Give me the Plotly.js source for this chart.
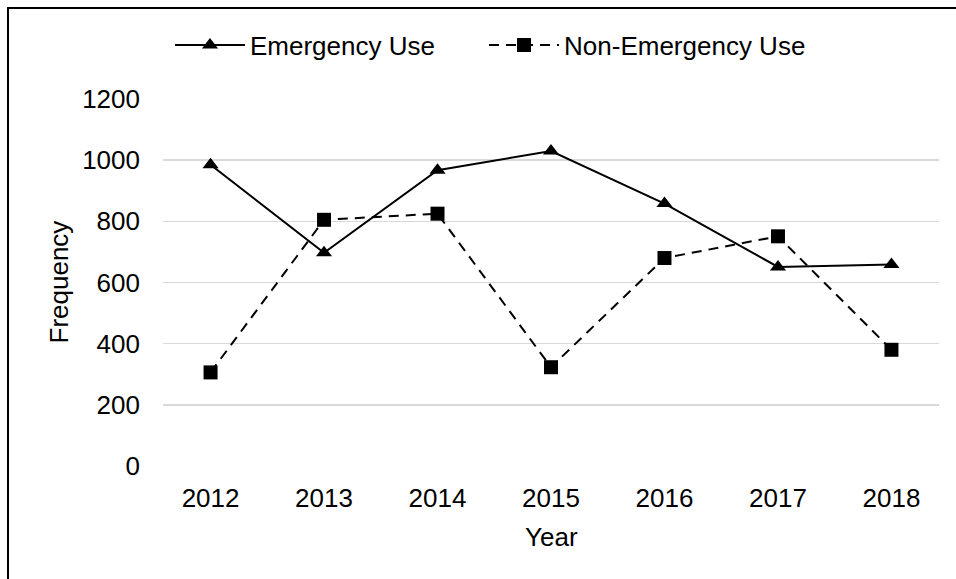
<!DOCTYPE html>
<html>
<head>
<meta charset="utf-8">
<script src="https://cdn.plot.ly/plotly-3.0.1.min.js"></script>
<style>
html,body{margin:0;padding:0;background:#fff;overflow:hidden;}
#chart{width:956px;height:579px;position:absolute;left:0;top:0;}
#frame{position:absolute;left:7px;top:7px;width:1200px;height:1200px;border:2px solid #000;pointer-events:none;z-index:10;}
</style>
</head>
<body>
<div id="chart"></div>
<div id="frame"></div>
<script>
const years = ['2012','2013','2014','2015','2016','2017','2018'];
const emergencyUse = [985, 697, 967, 1030, 858, 651, 659];
const nonEmergencyUse = [306, 805, 825, 323, 680, 751, 380];
const yTicks = [0, 200, 400, 600, 800, 1000, 1200];
const xTitle = 'Year';
const yTitle = 'Frequency';

const FONT = 'Liberation Sans, Arial, sans-serif';

const traces = [
  {
    x: years, y: emergencyUse, name: 'Emergency Use', type: 'scatter', mode: 'lines+markers',
    line: {color: '#000', width: 2},
    marker: {symbol: 'triangle-up', size: 14, color: '#000'},
    legend: 'legend'
  },
  {
    x: years, y: nonEmergencyUse, name: 'Non-Emergency Use', type: 'scatter', mode: 'lines+markers',
    line: {color: '#000', width: 2, dash: '10px,7px'},
    marker: {symbol: 'square', size: 14, color: '#000'},
    legend: 'legend2'
  }
];

const layout = {
  width: 956, height: 579,
  margin: {l: 163, r: 17, t: 99, b: 113},
  paper_bgcolor: '#fff', plot_bgcolor: '#fff',
  font: {family: FONT, size: 26, color: '#000'},
  showlegend: true,
  legend: {orientation: 'h', x: 0.009, xanchor: 'left', y: 1.147, yanchor: 'middle',
           itemwidth: 70, font: {family: FONT, size: 26, color: '#000'}, bgcolor: 'rgba(0,0,0,0)'},
  legend2: {orientation: 'h', x: 0.4137, xanchor: 'left', y: 1.147, yanchor: 'middle',
           itemwidth: 70, font: {family: FONT, size: 26, color: '#000'}, bgcolor: 'rgba(0,0,0,0)'},
  xaxis: {
    type: 'category', showgrid: false, zeroline: false, showline: false, ticks: '',
    ticklabelstandoff: 14,
    tickfont: {family: FONT, size: 26, color: '#000'}
  },
  yaxis: {
    range: [0, 1200], tickvals: yTicks, ticktext: yTicks.map(String),
    showgrid: true, gridcolor: '#d9d9d9', gridwidth: 1.5,
    zeroline: false, showline: false, ticks: '',
    ticklabelstandoff: 22,
    tickfont: {family: FONT, size: 26, color: '#000'}
  },
  annotations: [
    {text: xTitle, xref: 'paper', yref: 'paper', x: 0.5, y: -0.193, xanchor: 'center', yanchor: 'middle',
     showarrow: false, font: {family: FONT, size: 26, color: '#000'}},
    {text: yTitle, xref: 'paper', yref: 'paper', x: (58 - 163) / 776, y: 0.5, xanchor: 'center', yanchor: 'middle',
     textangle: -90, showarrow: false, font: {family: FONT, size: 26, color: '#000'}}
  ]
};

Plotly.newPlot('chart', traces, layout, {displayModeBar: false, staticPlot: true});
</script>
</body>
</html>
